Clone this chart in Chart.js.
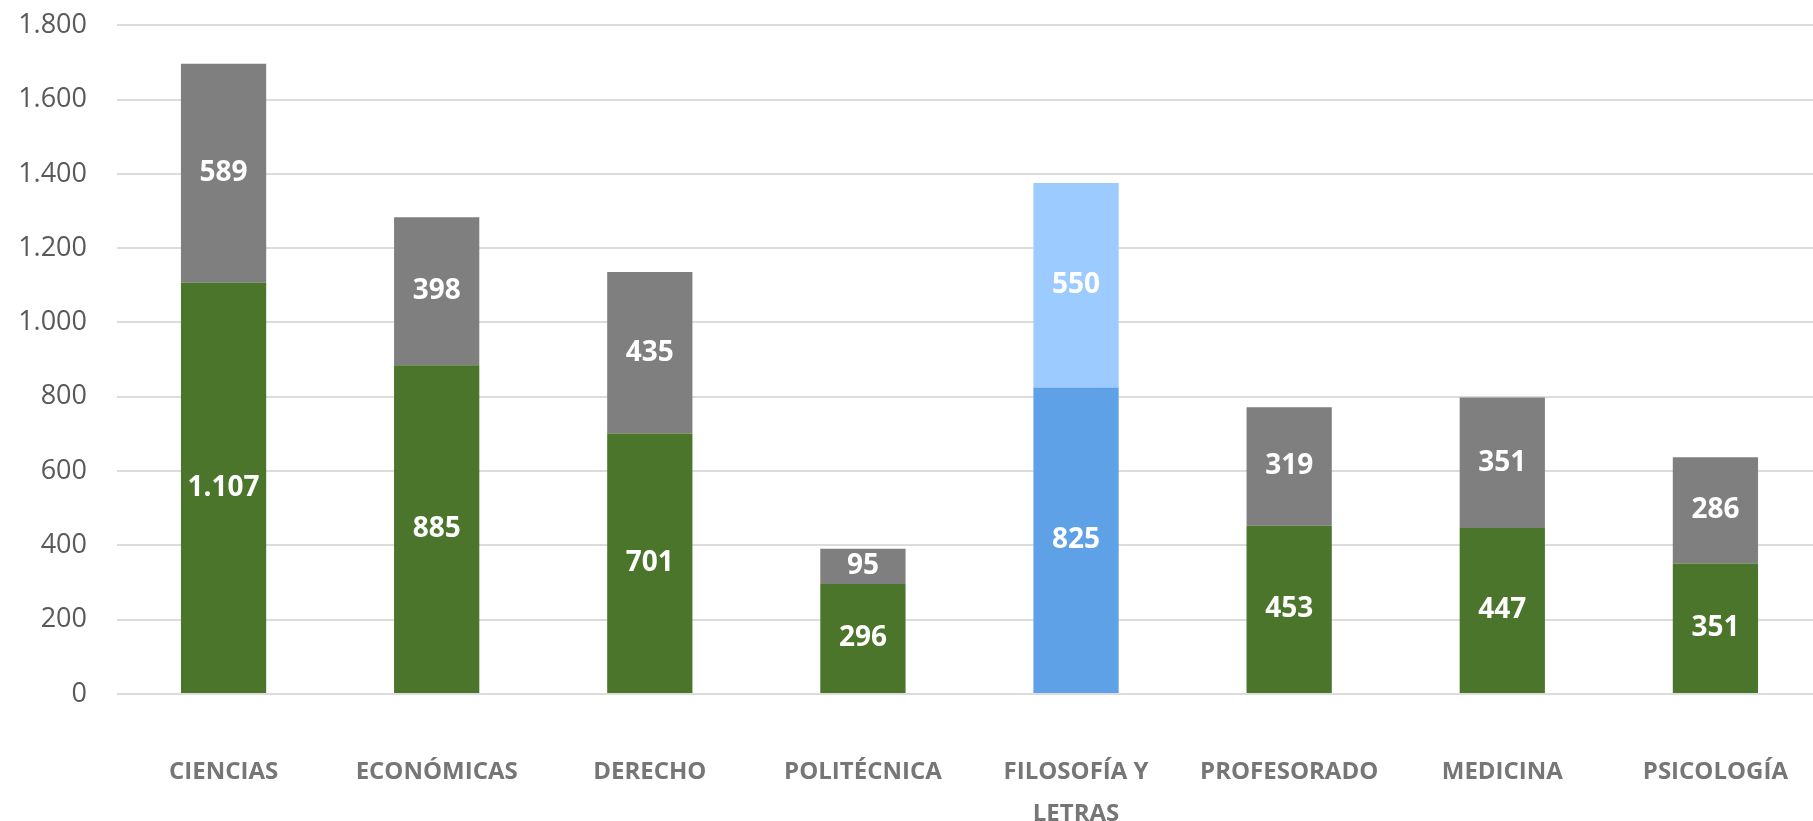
<!DOCTYPE html>
<html>
<head>
<meta charset="utf-8">
<script src="https://cdn.jsdelivr.net/npm/chart.js@4"></script>
<style>
  html, body { margin: 0; padding: 0; background: #fff; overflow: hidden; }
  #wrap { width: 1846px; height: 842px; margin-top: -21px; }
</style>
</head>
<body>
<div id="wrap"><canvas id="facultadesChart"></canvas></div>
<script>
// categorias y valores
const categorias = ['CIENCIAS', 'ECONÓMICAS', 'DERECHO', 'POLITÉCNICA', ['FILOSOFÍA Y', 'LETRAS'], 'PROFESORADO', 'MEDICINA', 'PSICOLOGÍA'];
const serieInferior = [1107, 885, 701, 296, 825, 453, 447, 351];
const serieSuperior = [589, 398, 435, 95, 550, 319, 351, 286];
const ticksY = [0, 200, 400, 600, 800, 1000, 1200, 1400, 1600, 1800];

// colores (la barra de Filosofía va en azul)
const verde = '#4a752b', gris = '#7f7f7f', azulOscuro = '#5ea1e6', azulClaro = '#9ccbff';
const coloresInf = categorias.map((c, i) => i === 4 ? azulOscuro : verde);
const coloresSup = categorias.map((c, i) => i === 4 ? azulClaro : gris);

// formato con punto de miles
function formato(v) {
    return String(v).replace(/\B(?=(\d{3})+(?!\d))/g, '.');
}

// etiquetas blancas en el centro de cada segmento
const etiquetasBarras = {
    id: 'etiquetasBarras',
    afterDatasetsDraw(chart) {
        const ctx = chart.ctx;
        ctx.save();
        ctx.fillStyle = '#ffffff';
        ctx.font = 'bold 28px "Open Sans"';
        ctx.textAlign = 'center';
        ctx.textBaseline = 'middle';
        chart.data.datasets.forEach((ds, di) => {
            chart.getDatasetMeta(di).data.forEach((bar, i) => {
                const p = bar.getProps(['x', 'y', 'base'], true);
                ctx.fillText(formato(ds.data[i]), p.x, (p.y + p.base) / 2);
            });
        });
        ctx.restore();
    }
};

const ctx = document.getElementById('facultadesChart');
new Chart(ctx.getContext('2d'), {
    type: 'bar',
    data: {
        labels: categorias,
        datasets: [{
            label: 'Inferior',
            data: serieInferior,
            backgroundColor: coloresInf,
            barPercentage: 0.4,
            categoryPercentage: 1
        }, {
            label: 'Superior',
            data: serieSuperior,
            backgroundColor: coloresSup,
            barPercentage: 0.4,
            categoryPercentage: 1
        }]
    },
    options: {
        responsive: true,
        maintainAspectRatio: false,
        animation: false,
        layout: { padding: { top: 4, right: 0, bottom: 0, left: 0 } },
        plugins: {
            legend: { display: false },
            tooltip: { enabled: false }
        },
        scales: {
            x: {
                stacked: true,
                grid: { display: false, drawTicks: false },
                border: { display: false },
                ticks: {
                    color: '#767676',
                    font: { family: '"Open Sans"', size: 24, weight: 'bold', lineHeight: 1.72 },
                    padding: 58,
                    maxRotation: 0,
                    autoSkip: false
                },
                afterFit(scale) { scale.height = 127; }
            },
            y: {
                stacked: true,
                min: 0,
                max: 1800,
                afterBuildTicks(scale) { scale.ticks = ticksY.map(v => ({ value: v })); },
                grid: { color: '#dcdcdc', lineWidth: 2, drawTicks: false },
                border: { display: false },
                ticks: {
                    color: '#595959',
                    font: { family: '"Open Sans"', size: 27 },
                    padding: 30,
                    callback: v => formato(v)
                },
                afterFit(scale) { scale.width = 117; }
            }
        }
    },
    plugins: [etiquetasBarras]
});
</script>
</body>
</html>
